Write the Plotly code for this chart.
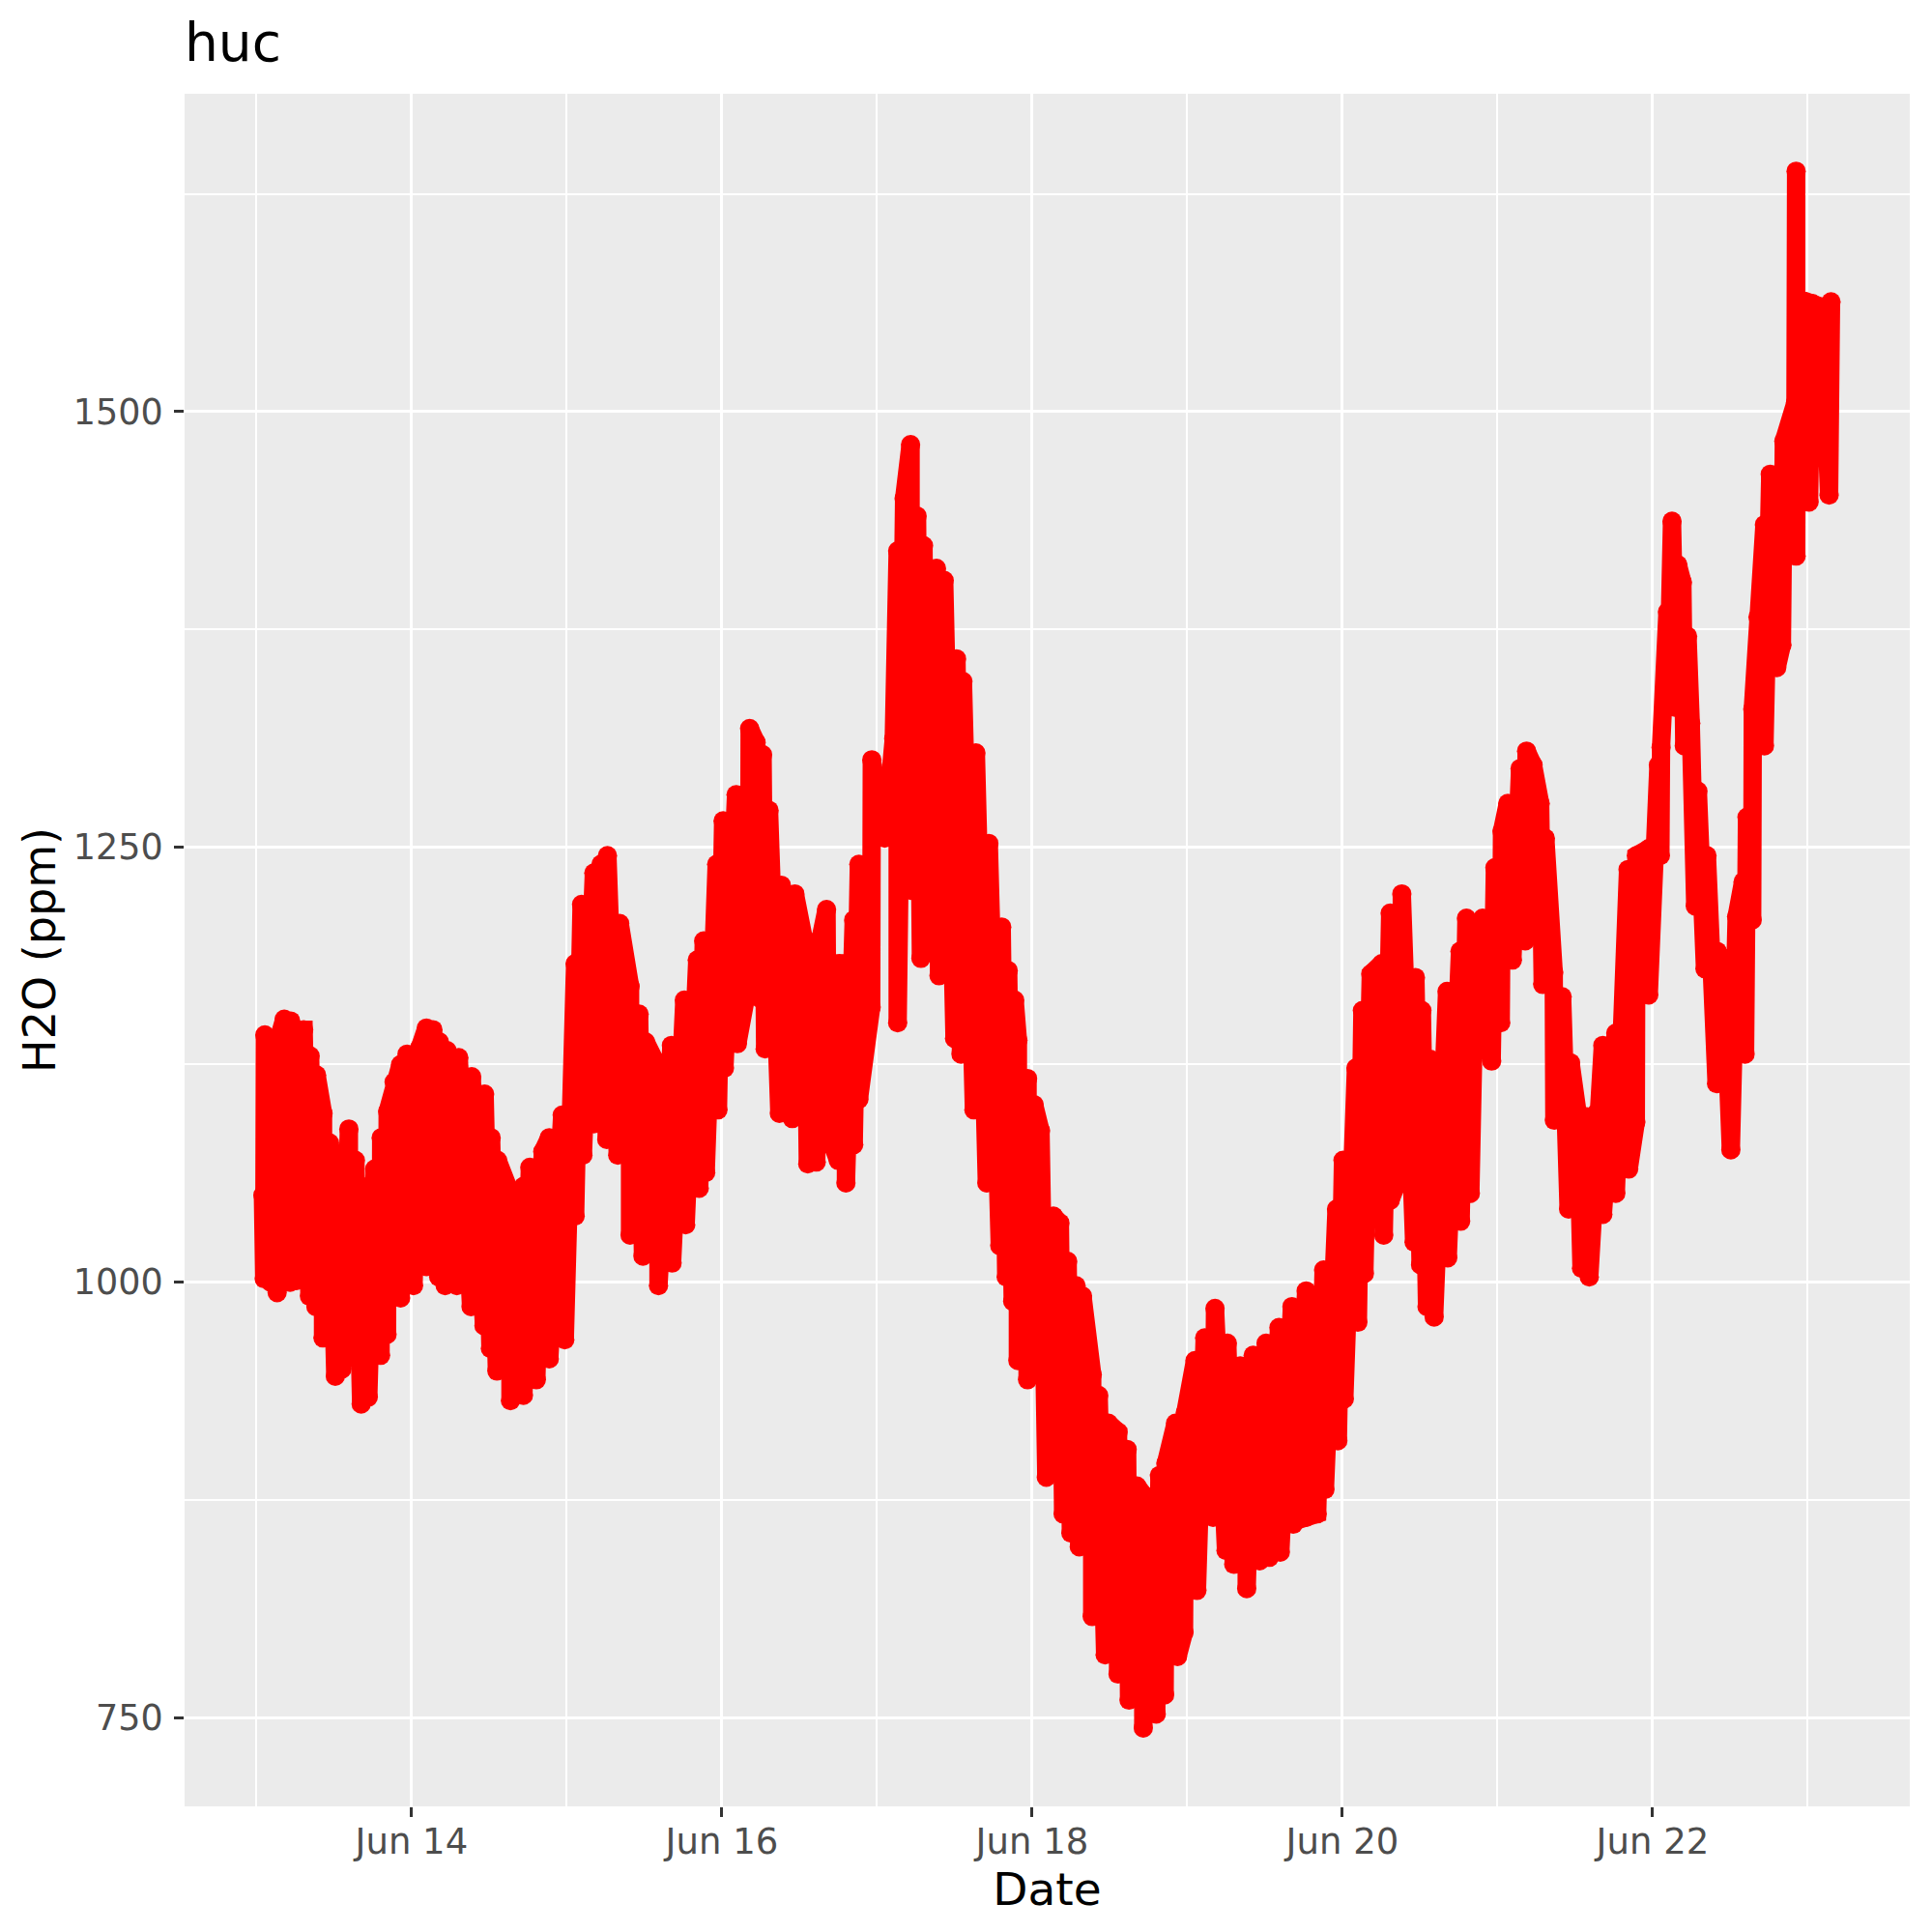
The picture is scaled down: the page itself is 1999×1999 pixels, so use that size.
import pandas as pd
import plotly.graph_objects as go

start = pd.Timestamp("2023-06-13 00:00")

# Upper envelope readings: hours after Jun 13 00:00, H2O ppm
upper_hours = [1.0,1.3,2.3,3.3,4.3,5.3,6.3,7.3,8.3,9.3,10.3,11.3,13.1,14.3,15.3,17.3,18.3,19.3,20.3,21.3,22.3,23.3,25.3,26.3,27.3,28.3,29.5,31.3,33.3,35.3,36.3,37.3,38.3,39.3,41.3,42.3,44.3,45.3,47.3,49.3,50.3,52.2,53.3,54.3,56.2,57.8,59.2,60.2,62.2,64.2,66.2,68.2,69.2,71.2,72.2,74.2,76.3,77.3,78.3,79.3,81.2,83.3,84.9,86.2,87.2,88.2,90.2,91.2,92.4,93.2,95.2,97.2,98.6,99.2,100.2,101.2,102.2,103.2,105.2,106.4,108.3,109.3,111.3,113.3,115.3,116.3,117.3,117.8,119.3,120.3,121.3,123.3,124.3,125.5,126.8,127.8,129.3,130.3,131.8,133.3,134.7,136.2,137.2,137.7,138.7,139.7,140.7,142.2,143.7,145.2,146.7,148.3,150.2,152.2,153.2,154.2,156.2,158.2,160.2,162.4,165.1,167.1,168.1,170.1,171.1,172.4,174.1,175.4,177.2,179.3,180.3,181.6,184.2,186.2,187.2,188.5,189.7,191.6,192.7,193.6,195.5,196.5,197.5,198.6,199.4,200.7,202.0,203.3,204.4,205.8,207.3,208.3,210.3,212.2,213.5,215.4,216.9,217.3,218.3,219.0,219.9,220.6,221.4,221.9,223.0,224.4,226.0,227.0,229.0,230.0,230.6,231.5,232.3,233.3,234.2,236.3,238.1,238.2,239.2,240.7,242.2,243.6]
upper_ppm = [1050,1142,1135,1138,1151,1150,1145,1145,1130,1119,1097,1080,1074,1088,1070,1055,1065,1083,1098,1115,1125,1131,1135,1146,1145,1138,1133,1129,1118,1108,1083,1070,1058,1051,1055,1066,1075,1083,1096,1183,1217,1235,1240,1245,1206,1170,1154,1138,1123,1136,1162,1185,1196,1240,1265,1280,1318,1310,1303,1271,1228,1223,1193,1195,1196,1214,1183,1183,1208,1240,1300,1255,1312,1420,1450,1481,1440,1423,1410,1403,1358,1345,1304,1252,1204,1179,1162,1139,1117,1102,1087,1038,1034,1012,998,992,947,935,919,914,904,883,878,870,875,889,896,919,925,955,968,985,965,952,944,958,965,974,986,995,1007,1042,1070,1123,1156,1177,1183,1212,1223,1175,1156,1128,1167,1190,1209,1178,1209,1238,1259,1275,1295,1305,1297,1275,1255,1178,1164,1126,1097,1095,1097,1136,1143,1237,1245,1249,1297,1307,1385,1437,1412,1402,1371,1321,1282,1245,1190,1183,1210,1230,1267,1329,1382,1435,1464,1483,1505,1638,1560,1562,1560,1563]

# Lower envelope readings
lower_hours = [1.2,2.2,3.2,5.2,6.2,8.2,9.2,10.3,12.2,13.2,14.3,16.2,17.3,19.2,20.2,22.3,24.3,26.3,28.2,29.2,31.0,33.2,35.2,36.2,37.2,39.3,41.3,43.3,45.3,47.7,49.3,50.5,52.2,54.2,55.9,57.8,59.8,62.2,64.3,66.4,68.5,69.5,71.4,72.4,74.4,76.2,77.9,78.7,80.9,82.9,85.3,86.6,88.4,90.0,91.2,92.4,93.2,95.1,99.2,101.2,102.8,103.6,105.6,108.0,109.0,111.0,113.0,115.0,116.0,117.0,117.8,119.3,122.2,124.8,126.0,127.3,129.3,131.3,133.3,135.0,137.2,139.2,140.5,142.5,143.5,145.5,148.0,150.0,151.2,153.2,155.2,156.7,158.4,160.4,162.4,164.1,165.3,167.3,168.3,170.4,171.4,174.4,175.4,177.1,179.1,180.1,181.1,182.2,184.3,186.3,187.8,189.0,191.1,192.5,194.3,196.3,199.0,200.8,203.0,205.0,206.2,208.3,210.3,212.3,213.4,215.4,217.2,218.4,219.6,220.9,222.6,224.1,225.9,228.1,230.3,231.4,233.3,235.2,236.0,238.2,238.3,240.2,243.3]
lower_ppm = [1002,1000,994,1000,1001,992,986,968,946,950,960,930,934,958,970,991,998,1009,1003,998,998,986,975,962,949,932,935,944,956,967,1038,1073,1091,1082,1073,1027,1015,998,1011,1033,1054,1063,1099,1123,1137,1173,1163,1134,1097,1094,1068,1069,1086,1070,1057,1079,1105,1158,1149,1225,1186,1190,1176,1140,1131,1099,1057,1021,1003,989,955,944,888,867,856,848,808,786,775,760,744,752,763,785,799,823,865,846,838,824,840,842,845,861,865,867,881,909,933,977,1005,1027,1047,1063,1023,1010,986,980,1014,1035,1051,1156,1127,1149,1185,1196,1171,1093,1042,1008,1003,1039,1051,1065,1092,1165,1245,1336,1330,1308,1216,1180,1114,1076,1131,1208,1308,1353,1366,1417,1517,1448,1452]

major_ticks_y = [750, 1000, 1250, 1500]
minor_ticks_y = [875, 1125, 1375, 1625]
y_axis_range = [699, 1682.5]
x_axis_range = ["2023-06-12 12:53", "2023-06-23 15:47"]

pairs = sorted(list(zip(upper_hours, upper_ppm)) + list(zip(lower_hours, lower_ppm)), key=lambda p: p[0])
times = [start + pd.Timedelta(hours=h) for h, _ in pairs]
values = [v for _, v in pairs]

fig = go.Figure(go.Scatter(
    x=times, y=values, mode="lines+markers",
    line=dict(color="#FF0000", width=19),
    marker=dict(color="#FF0000", size=20, line=dict(width=0)),
    hoverinfo="skip",
))

fig.update_layout(
    width=1999, height=1999, autosize=False,
    margin=dict(l=191, r=23, t=97, b=130, pad=0),
    paper_bgcolor="#FFFFFF", plot_bgcolor="#EBEBEB",
    showlegend=False,
    font=dict(family="DejaVu Sans", color="#000000"),
    title=dict(text="huc", x=0, xanchor="left", xref="paper", y=1-44/1999, yanchor="middle",
               font=dict(size=55, color="#000000", family="DejaVu Sans")),
)
fig.update_xaxes(
    type="date", range=x_axis_range, tick0="2023-06-14", dtick=2*86400000, tickformat="%b %d",
    ticks="outside", ticklen=10, tickwidth=3.4, tickcolor="#333333", ticklabelstandoff=-6,
    tickfont=dict(size=37, color="#4D4D4D", family="DejaVu Sans"),
    showgrid=True, gridcolor="#FFFFFF", gridwidth=3.4, zeroline=False, showline=False,
    minor=dict(dtick=86400000, tick0="2023-06-13", showgrid=True, gridcolor="#FFFFFF", gridwidth=1.7, ticks=""),
    title=dict(text="Date", font=dict(size=47, color="#000000", family="DejaVu Sans"), standoff=8),
    automargin=False,
)
fig.update_yaxes(
    range=y_axis_range, tickmode="array", tickvals=major_ticks_y,
    ticktext=[str(v) for v in major_ticks_y],
    ticks="outside", ticklen=10, tickwidth=3.4, tickcolor="#333333", ticklabelstandoff=4,
    tickfont=dict(size=36.5, color="#4D4D4D", family="DejaVu Sans"),
    showgrid=True, gridcolor="#FFFFFF", gridwidth=3.4, zeroline=False, showline=False,
    minor=dict(tickmode="array", tickvals=minor_ticks_y, showgrid=True, gridcolor="#FFFFFF", gridwidth=1.7, ticks=""),
    title=dict(text="H2O (ppm)", font=dict(size=46, color="#000000", family="DejaVu Sans"), standoff=3),
    automargin=False,
)

fig.write_html("out.html", post_script="document.body.style.margin='0';", config={"displayModeBar": False})
